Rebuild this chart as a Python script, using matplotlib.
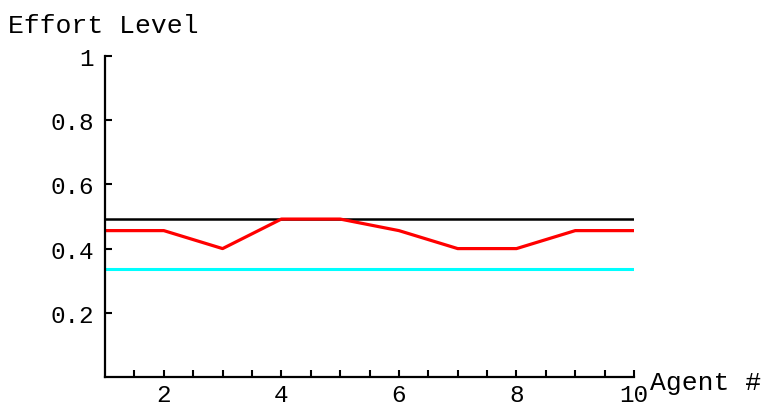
import numpy as np
import matplotlib.pyplot as plt

agents = [1, 2, 3, 4, 5, 6, 7, 8, 9, 10]
effort_red = [0.456, 0.456, 0.4, 0.492, 0.492, 0.456, 0.4, 0.4, 0.456, 0.456]
effort_black = [0.492] * 10
effort_cyan = [0.335] * 10

plt.rcParams['font.family'] = ['Liberation Mono', 'DejaVu Sans Mono']
fs = 17.5

fig = plt.figure(figsize=(7.65, 4.06), dpi=100)
ax = fig.add_axes([0.1373, 0.069, 0.6915, 0.7906])

ax.plot(agents, effort_black, color='black', lw=1.8)
ax.plot(agents, effort_cyan, color='cyan', lw=2.2)
ax.plot(agents, effort_red, color='red', lw=2.3)

ax.set_xlim(1, 10)
ax.set_ylim(0, 1)
for s in ['top', 'right']:
    ax.spines[s].set_visible(False)
for s in ['left', 'bottom']:
    ax.spines[s].set_linewidth(1.6)

ax.set_xticks([2, 4, 6, 8, 10])
ax.set_xticks(np.arange(1.5, 10, 0.5), minor=True)
ax.set_yticks([0.2, 0.4, 0.6, 0.8, 1])
ax.set_yticklabels(['0.2', '0.4', '0.6', '0.8', '1'])
ax.tick_params(direction='in', length=5, width=1.5, labelsize=fs, pad=8)
ax.tick_params(axis='x', which='minor', direction='in', length=5, width=1.5)
ax.tick_params(axis='x', pad=4)

fig.text(8 / 765, 1 - 33 / 406, 'Effort Level', fontsize=19, ha='left', va='baseline')
fig.text(650 / 765, 1 - 390 / 406, 'Agent #', fontsize=19, ha='left', va='baseline')

fig.savefig('out.png', dpi=100)
